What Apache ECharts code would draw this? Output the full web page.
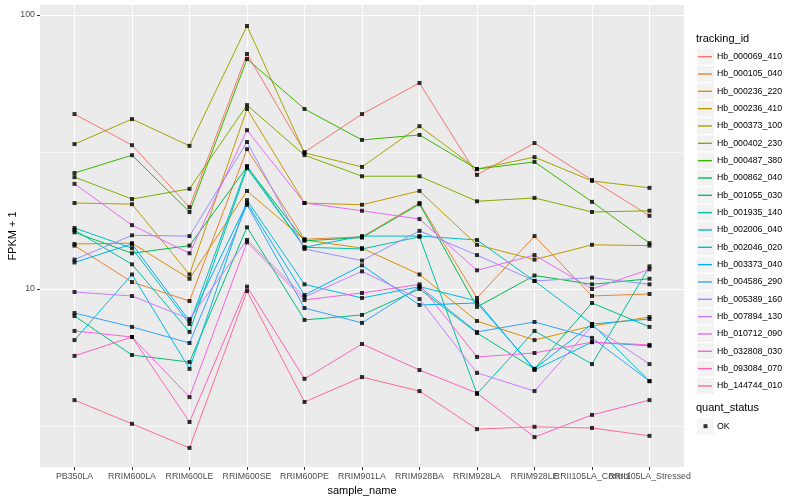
<!DOCTYPE html>
<html>
<head>
<meta charset="utf-8">
<script src="https://cdn.jsdelivr.net/npm/echarts@6/dist/echarts.min.js"></script>
<style>html,body{margin:0;padding:0;background:#fff}#c{width:800px;height:500px}</style>
</head>
<body>
<div id="c"></div>
<script>
const categories = ["PB350LA","RRIM600LA","RRIM600LE","RRIM600SE","RRIM600PE","RRIM901LA","RRIM928BA","RRIM928LA","RRIM928LE","RRII105LA_Control","RRII105LA_Stressed"];
const trackingIds = ["Hb_000069_410","Hb_000105_040","Hb_000236_220","Hb_000236_410","Hb_000373_100","Hb_000402_230","Hb_000487_380","Hb_000862_040","Hb_001055_030","Hb_001935_140","Hb_002006_040","Hb_002046_020","Hb_003373_040","Hb_004586_290","Hb_005389_160","Hb_007894_130","Hb_010712_090","Hb_032808_030","Hb_093084_070","Hb_144744_010"];
const colors = ["#F8766D","#EA8331","#D89000","#C09B00","#A3A500","#7CAE00","#39B600","#00BB4E","#00BF7D","#00C1A3","#00BFC4","#00BAE0","#00B0F6","#35A2FF","#9590FF","#C77CFF","#E76BF3","#FA62DB","#FF62BC","#FF6C91"];
const yTicks = [10, 100];
const yMinorTicks = [3.1623, 31.623];
const quantStatus = ["OK"];

const Hb_000069_410 = [43.5, 33.5, 19.9, 72.1, 31.6, 43.5, 56.5, 26.1, 34.1, 25.0, 18.5];
const Hb_000105_040 = [14.4, 10.6, 9.04, 32.4, 15.2, 15.5, 20.6, 9.27, 15.6, 9.43, 9.59];
const Hb_000236_220 = [14.6, 14.7, 10.9, 22.8, 15.1, 14.1, 11.3, 7.64, 6.51, 7.33, 7.90];
const Hb_000236_410 = [20.6, 20.4, 11.3, 45.4, 20.6, 20.3, 22.8, 14.5, 12.8, 14.5, 14.4];
const Hb_000373_100 = [33.8, 41.7, 33.3, 91.2, 31.4, 27.9, 39.3, 27.4, 30.3, 24.8, 23.4];
const Hb_000402_230 = [25.6, 21.3, 23.2, 46.9, 30.8, 25.8, 25.8, 20.9, 21.5, 19.1, 19.3];
const Hb_000487_380 = [26.5, 30.8, 19.1, 69.1, 45.4, 35.0, 36.5, 27.4, 29.1, 20.8, 14.7];
const Hb_000862_040 = [16.1, 13.5, 14.4, 27.9, 15.0, 15.4, 20.4, 8.60, 11.2, 10.4, 10.9];
const Hb_001055_030 = [7.97, 5.74, 5.41, 16.8, 7.71, 8.04, 10.0, 6.91, 5.11, 8.89, 7.27];
const Hb_001935_140 = [16.4, 12.3, 6.97, 27.6, 14.2, 14.0, 15.5, 4.14, 7.03, 5.32, 12.1];
const Hb_002006_040 = [16.7, 14.1, 7.45, 28.1, 14.2, 15.6, 15.6, 15.1, 10.7, 7.45, 4.61];
const Hb_002046_020 = [6.51, 11.3, 5.11, 21.1, 10.4, 9.27, 10.2, 9.04, 5.06, 6.40, 6.20];
const Hb_003373_040 = [12.5, 14.6, 7.64, 20.6, 9.51, 12.2, 8.74, 8.89, 5.11, 7.45, 7.77];
const Hb_004586_290 = [8.17, 7.27, 6.35, 20.3, 8.52, 7.52, 10.2, 6.97, 7.58, 6.63, 4.61];
const Hb_005389_160 = [12.8, 15.7, 15.6, 34.4, 14.0, 12.7, 16.3, 13.3, 10.7, 11.0, 10.4];
const Hb_007894_130 = [9.75, 9.43, 7.77, 15.1, 9.35, 11.6, 9.19, 4.94, 4.24, 7.33, 5.32];
const Hb_010712_090 = [24.2, 17.1, 13.5, 38.0, 20.6, 19.3, 18.0, 11.7, 13.3, 10.0, 11.8];
const Hb_032808_030 = [7.03, 6.68, 4.03, 14.8, 9.12, 9.67, 10.4, 5.65, 5.84, 6.40, 6.25];
const Hb_093084_070 = [5.70, 6.68, 3.27, 10.2, 4.70, 6.30, 5.06, 4.17, 2.88, 3.47, 3.93];
const Hb_144744_010 = [3.93, 3.22, 2.63, 9.83, 3.87, 4.77, 4.24, 3.08, 3.14, 3.11, 2.91];

const seriesValues = [Hb_000069_410, Hb_000105_040, Hb_000236_220, Hb_000236_410, Hb_000373_100, Hb_000402_230, Hb_000487_380, Hb_000862_040, Hb_001055_030, Hb_001935_140, Hb_002006_040, Hb_002046_020, Hb_003373_040, Hb_004586_290, Hb_005389_160, Hb_007894_130, Hb_010712_090, Hb_032808_030, Hb_093084_070, Hb_144744_010];

const FONT = '"Liberation Sans", Arial, Helvetica, sans-serif';
const catIdx = categories.map((c, i) => i);
// labels split over two axes so that overlapping neighbours are both kept, as in the original
const labelIdxA = catIdx.filter(i => i !== 9);
const labelIdxB = [9];

const lineSeries = trackingIds.map((id, k) => ({
  name: id,
  type: 'line',
  xAxisIndex: 0,
  data: seriesValues[k].map((v, i) => [i, v]),
  showSymbol: false,
  symbol: 'none',
  lineStyle: { color: colors[k], width: 1 },
  itemStyle: { color: colors[k] },
  silent: true,
  z: 2
}));

// thin white minor grid lines (ggplot minor breaks), drawn below the data lines
const minorGridSeries = {
  name: 'minor-grid',
  type: 'line',
  xAxisIndex: 0,
  data: [],
  silent: true,
  z: 1,
  markLine: {
    silent: true,
    z: 1,
    symbol: ['none', 'none'],
    label: { show: false },
    lineStyle: { color: '#FFFFFF', width: 0.55, type: 'solid' },
    emphasis: { disabled: true },
    data: yMinorTicks.map(v => ({ yAxis: v }))
  }
};

const points = [];
seriesValues.forEach(arr => arr.forEach((v, i) => points.push([i, v])));

const pointSeries = {
  name: 'OK',
  type: 'scatter',
  xAxisIndex: 0,
  data: points,
  symbol: 'rect',
  symbolSize: 4,
  itemStyle: { color: '#000000' },
  silent: true,
  z: 3
};

const xLabelStyle = { hideOverlap: false, showMinLabel: true, showMaxLabel: true, formatter: v => categories[Math.round(v)], fontSize: 8.8, color: '#4D4D4D', margin: 5, fontFamily: FONT };

const chart = echarts.init(document.getElementById('c'));
chart.setOption({
  animation: false,
  backgroundColor: '#FFFFFF',
  textStyle: { fontFamily: FONT },
  title: [
    { text: 'tracking_id', left: 696, top: 33, padding: 0, textStyle: { fontSize: 11, fontWeight: 'normal', color: '#000', fontFamily: FONT } },
    { text: 'quant_status', left: 696, top: 402, padding: 0, textStyle: { fontSize: 11, fontWeight: 'normal', color: '#000', fontFamily: FONT } }
  ],
  grid: { left: 40, right: 116, top: 5, bottom: 33, show: true, backgroundColor: '#EBEBEB', borderWidth: 0, containLabel: false, outerBoundsMode: 'none' },
  legend: [
    {
      left: 697, top: 48, orient: 'vertical', padding: 0, itemGap: 0,
      itemWidth: 17, itemHeight: 16, icon: 'rect', selectedMode: false,
      data: trackingIds.map(n => ({ name: n, itemStyle: { color: '#F2F2F2' } })),
      textStyle: { color: 'rgba(0,0,0,0)', fontSize: 8.8, lineHeight: 17.33, fontFamily: FONT }
    },
    {
      left: 698, top: 48, orient: 'vertical', padding: 0, itemGap: 0,
      itemWidth: 14, itemHeight: 1.4, icon: 'rect', selectedMode: false,
      data: trackingIds.map((n, k) => ({ name: n, itemStyle: { color: colors[k] } })),
      textStyle: { color: '#000', fontSize: 8.8, lineHeight: 17.33, fontFamily: FONT }
    },
    {
      left: 697, top: 417.5, orient: 'vertical', padding: 0, itemGap: 0,
      itemWidth: 17, itemHeight: 16, icon: 'rect', selectedMode: false,
      data: quantStatus.map(n => ({ name: n, itemStyle: { color: '#F2F2F2' } })),
      textStyle: { color: 'rgba(0,0,0,0)', fontSize: 8.8, lineHeight: 17.33, fontFamily: FONT }
    },
    {
      left: 703.5, top: 417.5, orient: 'vertical', padding: 0, itemGap: 0,
      itemWidth: 4, itemHeight: 4, icon: 'rect', selectedMode: false,
      data: quantStatus.map(n => ({ name: n, itemStyle: { color: '#000' } })),
      textStyle: { color: '#000', fontSize: 8.8, lineHeight: 17.33, fontFamily: FONT, padding: [0, 0, 0, 4.5] }
    }
  ],
  xAxis: [
    {
      type: 'value', min: -0.6, max: 10.6, position: 'bottom',
      name: 'sample_name', nameLocation: 'middle', nameGap: 13,
      nameTextStyle: { fontSize: 11, color: '#000', fontFamily: FONT },
      axisLine: { show: false, onZero: false },
      axisTick: { show: true, customValues: catIdx, length: 3, lineStyle: { color: '#333333', width: 1 } },
      axisLabel: Object.assign({ customValues: labelIdxA }, xLabelStyle),
      splitLine: { show: true, lineStyle: { color: '#FFFFFF', width: 1.1 } }
    },
    {
      type: 'value', min: -0.6, max: 10.6, position: 'bottom', offset: 0,
      axisLine: { show: false, onZero: false },
      axisTick: { show: false },
      axisLabel: Object.assign({ customValues: labelIdxB }, xLabelStyle),
      splitLine: { show: false }
    }
  ],
  yAxis: {
    type: 'log', logBase: 10, min: 2.24, max: 108.8, position: 'left',
    name: 'FPKM + 1', nameLocation: 'middle', nameGap: 22, nameRotate: 90, nameMoveOverlap: false,
    nameTextStyle: { fontSize: 11, color: '#000', fontFamily: FONT },
    axisLine: { show: false, onZero: false },
    axisTick: { show: true, customValues: yTicks, length: 3, lineStyle: { color: '#333333', width: 1 } },
    axisLabel: { customValues: yTicks, hideOverlap: false, formatter: v => String(Math.round(v)), fontSize: 8.8, color: '#4D4D4D', margin: 5, fontFamily: FONT },
    splitLine: { show: true, lineStyle: { color: '#FFFFFF', width: 1.1 } }
  },
  series: [minorGridSeries].concat(lineSeries, [pointSeries])
});
</script>
</body>
</html>
